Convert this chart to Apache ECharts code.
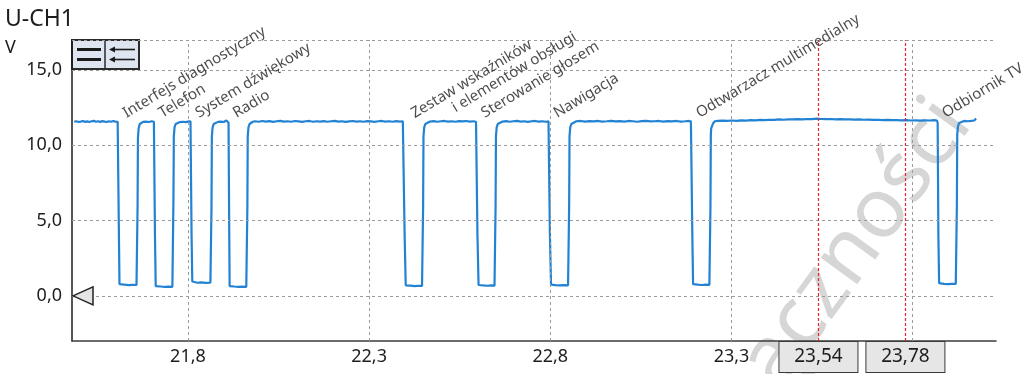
<!DOCTYPE html>
<html>
<head>
<meta charset="utf-8">
<script src="https://cdn.jsdelivr.net/npm/echarts@6/dist/echarts.min.js"></script>
<style>
html,body{margin:0;padding:0;background:#fff;}
#c{width:1033px;height:374px;}
</style>
</head>
<body>
<div id="c"></div>
<script>
// ---- data ----
const xRange = [21.48, 24.03];
const yRange = [-3, 17];
const xTickValues = [21.8, 22.3, 22.8, 23.3, 23.8];
const xTickLabelsShown = [21.8, 22.3, 22.8, 23.3];
const yTickValues = [0, 5, 10, 15];
const cursorValues = [23.54, 23.78];
const annotationText = [
  'Interfejs diagnostyczny', 'Telefon', 'System dźwiękowy', 'Radio',
  'Zestaw wskaźników\ni elementów obsługi', 'Sterowanie głosem', 'Nawigacja',
  'Odtwarzacz multimedialny', 'Odbiornik TV'
];
const annotationX = [21.608, 21.707, 21.808, 21.912, 22.396, 22.597, 22.797, 23.190, 23.869];
const annotationY = 11.6;

const tracePoints = [
  [21.486,11.57],[21.492,11.60],[21.498,11.55],[21.504,11.58],[21.510,11.62],[21.516,11.56],[21.522,11.59],
  [21.528,11.55],[21.534,11.60],[21.540,11.63],[21.546,11.57],[21.552,11.60],[21.558,11.56],[21.564,11.61],
  [21.570,11.58],[21.576,11.55],[21.582,11.60],[21.588,11.57],[21.594,11.62],[21.600,11.58],[21.606,11.56],
  [21.608,11.50],[21.610,3.0],[21.611,0.78],
  [21.614,0.72],[21.625,0.74],[21.636,0.71],[21.647,0.73],[21.658,0.72],
  [21.659,0.80],[21.661,6.0],[21.662,10.5],[21.664,11.15],[21.667,11.42],[21.671,11.52],[21.676,11.56],
  [21.684,11.58],[21.692,11.55],[21.700,11.60],[21.706,11.57],
  [21.707,11.50],[21.709,4.0],[21.711,0.65],
  [21.714,0.60],[21.725,0.62],[21.736,0.59],[21.747,0.61],[21.757,0.60],
  [21.758,0.70],[21.760,6.5],[21.761,10.6],[21.763,11.2],[21.766,11.42],[21.770,11.52],
  [21.778,11.55],[21.786,11.57],[21.794,11.54],[21.800,11.58],[21.804,11.70],[21.807,11.60],
  [21.808,11.50],[21.810,4.0],[21.812,0.95],
  [21.815,0.88],[21.826,0.87],[21.837,0.89],[21.848,0.86],[21.862,0.88],
  [21.863,1.0],[21.865,6.0],[21.866,10.6],[21.868,11.2],[21.871,11.42],[21.875,11.53],
  [21.883,11.56],[21.891,11.58],[21.899,11.55],[21.906,11.66],[21.910,11.60],
  [21.912,11.50],[21.914,4.0],[21.915,0.65],
  [21.917,0.60],[21.928,0.62],[21.939,0.60],[21.950,0.61],[21.961,0.60],
  [21.962,0.70],[21.964,6.0],[21.965,10.6],[21.967,11.2],[21.970,11.42],[21.974,11.52],[21.979,11.57],
  [21.985,11.60],[21.995,11.57],[22.005,11.62],[22.015,11.58],[22.025,11.61],[22.035,11.56],[22.045,11.60],
  [22.055,11.63],[22.065,11.58],[22.075,11.60],[22.085,11.57],[22.095,11.62],[22.105,11.59],[22.115,11.56],
  [22.125,11.60],[22.135,11.62],[22.145,11.57],[22.155,11.60],[22.165,11.58],[22.175,11.61],[22.185,11.57],
  [22.195,11.60],[22.205,11.63],[22.215,11.58],[22.225,11.60],[22.235,11.56],[22.245,11.59],[22.255,11.62],
  [22.265,11.58],[22.275,11.60],[22.285,11.57],[22.295,11.61],[22.305,11.59],[22.315,11.56],[22.325,11.60],
  [22.335,11.62],[22.345,11.58],[22.355,11.60],[22.365,11.57],[22.375,11.61],[22.385,11.58],[22.393,11.60],
  [22.396,11.50],[22.398,4.0],[22.401,0.70],
  [22.403,0.66],[22.414,0.68],[22.425,0.65],[22.436,0.67],[22.446,0.66],
  [22.447,0.75],[22.449,6.0],[22.450,10.6],[22.452,11.2],[22.455,11.42],[22.459,11.54],
  [22.468,11.58],[22.478,11.61],[22.488,11.57],[22.498,11.60],[22.508,11.62],[22.518,11.58],[22.528,11.60],
  [22.538,11.57],[22.548,11.61],[22.558,11.59],[22.568,11.62],[22.578,11.58],[22.588,11.60],[22.595,11.57],
  [22.597,11.50],[22.599,4.0],[22.602,0.72],
  [22.604,0.68],[22.615,0.69],[22.626,0.67],[22.637,0.69],[22.646,0.68],
  [22.647,0.78],[22.649,6.0],[22.650,10.6],[22.652,11.2],[22.655,11.42],[22.660,11.54],
  [22.668,11.58],[22.678,11.61],[22.688,11.57],[22.698,11.60],[22.708,11.63],[22.718,11.58],[22.728,11.60],
  [22.738,11.56],[22.748,11.60],[22.758,11.62],[22.768,11.58],[22.778,11.60],[22.788,11.57],[22.795,11.60],
  [22.797,11.50],[22.799,4.0],[22.802,0.74],
  [22.804,0.70],[22.815,0.71],[22.826,0.69],[22.837,0.71],[22.849,0.70],
  [22.850,0.80],[22.852,6.0],[22.853,10.6],[22.855,11.2],[22.858,11.42],[22.863,11.55],
  [22.872,11.60],[22.884,11.62],[22.896,11.58],[22.908,11.61],[22.920,11.59],[22.932,11.62],[22.944,11.58],
  [22.956,11.60],[22.968,11.63],[22.980,11.59],[22.992,11.61],[23.004,11.58],[23.016,11.62],[23.028,11.60],
  [23.040,11.57],[23.052,11.61],[23.064,11.63],[23.076,11.59],[23.088,11.60],[23.100,11.62],[23.112,11.58],
  [23.124,11.61],[23.136,11.59],[23.148,11.62],[23.160,11.58],[23.172,11.60],[23.182,11.62],[23.188,11.59],
  [23.190,11.50],[23.192,4.0],[23.194,0.78],
  [23.196,0.73],[23.207,0.74],[23.218,0.72],[23.229,0.74],[23.239,0.73],
  [23.240,0.80],[23.242,6.0],[23.243,10.7],[23.244,11.12],[23.246,11.2],[23.249,11.45],[23.254,11.60],
  [23.262,11.62],[23.275,11.64],[23.288,11.62],[23.301,11.65],[23.314,11.63],[23.327,11.66],[23.340,11.64],
  [23.353,11.67],[23.366,11.66],[23.379,11.69],[23.392,11.67],[23.405,11.70],[23.418,11.69],[23.431,11.72],
  [23.444,11.70],[23.457,11.73],[23.470,11.72],[23.483,11.74],[23.496,11.73],[23.509,11.75],[23.522,11.74],
  [23.535,11.77],[23.548,11.75],[23.561,11.74],[23.574,11.75],[23.587,11.73],[23.600,11.74],[23.613,11.72],
  [23.626,11.73],[23.639,11.71],[23.652,11.72],[23.665,11.70],[23.678,11.71],[23.691,11.69],[23.704,11.70],
  [23.717,11.68],[23.730,11.69],[23.743,11.67],[23.756,11.68],[23.769,11.66],[23.782,11.67],[23.795,11.65],
  [23.808,11.66],[23.821,11.64],[23.834,11.66],[23.847,11.65],[23.860,11.67],[23.867,11.65],
  [23.869,11.50],[23.871,4.0],[23.873,0.85],
  [23.875,0.79],[23.886,0.80],[23.897,0.78],[23.908,0.80],[23.919,0.79],
  [23.920,0.85],[23.922,6.0],[23.923,10.7],[23.925,11.25],[23.928,11.48],[23.933,11.60],
  [23.942,11.62],[23.952,11.60],[23.962,11.63],[23.970,11.65],[23.975,11.78]
];

// ---- chart ----
const FONT = '"Noto Sans", "DejaVu Sans", sans-serif';
const TXT = '#1f1c1d';
const near = (a, b) => Math.abs(a - b) < 1e-6;
const fmt = (v, d) => v.toFixed(d).replace('.', ',');

const chart = echarts.init(document.getElementById('c'), null, {renderer: 'canvas'});

const annotationData = annotationX.map((x, i) => {
  const text = annotationText[i];
  const item = {value: [x, annotationY], name: text};
  if (text.indexOf('\n') >= 0) {
    const lines = text.split('\n');
    item.label = {
      position: [21, 14],
      formatter: '{a|' + lines[0] + '}\n{b|' + lines[1] + '}'
    };
  }
  return item;
});

const option = {
  animation: false,
  textStyle: {fontFamily: FONT},
  title: [
    {text: 'U-CH1', left: 0, top: 3, textStyle: {fontFamily: FONT, fontSize: 23, fontWeight: 'normal', color: TXT}},
    {text: 'V', left: 0, top: 34, textStyle: {fontFamily: FONT, fontSize: 18, fontWeight: 'normal', color: TXT}}
  ],
  grid: {left: 72, right: 37, top: 40, bottom: 33, containLabel: false},
  xAxis: {
    type: 'value', min: xRange[0], max: xRange[1], interval: 0.02,
    axisLine: {show: true, onZero: false, lineStyle: {color: '#3c3c3c', width: 1.5}},
    axisTick: {show: false},
    splitLine: {show: false},
    axisLabel: {
      margin: 1,
      color: TXT,
      formatter: function (v) {
        if (cursorValues.some(c => near(c, v))) return '{box|' + fmt(v, 2) + '}';
        if (xTickLabelsShown.some(c => near(c, v))) return '{n|' + fmt(v, 1) + '}';
        return '';
      },
      rich: {
        n: {fontFamily: FONT, fontSize: 18, color: TXT, padding: [5, 0, 0, 0], lineHeight: 24},
        box: {fontFamily: FONT, fontSize: 19, color: TXT, backgroundColor: '#e6e6e6',
              borderColor: '#3a3a3a', borderWidth: 1, width: 62, height: 30, lineHeight: 30,
              padding: [0, 8], align: 'center'}
      }
    }
  },
  yAxis: {
    type: 'value', min: yRange[0], max: yRange[1], interval: 1,
    axisLine: {show: true, onZero: false, lineStyle: {color: '#1e1e1e', width: 1.5}},
    axisTick: {show: false},
    splitLine: {show: false},
    axisLabel: {
      margin: 10, fontSize: 18, color: TXT, fontFamily: FONT,
      formatter: function (v) {
        return yTickValues.some(c => near(c, v)) ? fmt(v, 1) : '';
      }
    }
  },
  series: [
    {
      type: 'line', data: [], silent: true, z: 1,
      markLine: {
        silent: true, symbol: ['none', 'none'], animation: false,
        label: {show: false},
        lineStyle: {type: [3, 3], color: '#9b9b9b', width: 1},
        data: xTickValues.map(v => ({xAxis: v}))
          .concat(yTickValues.map(v => ({yAxis: v})))
          .concat([{yAxis: yRange[1]}])
      }
    },
    {
      type: 'line', data: [], silent: true, z: 3,
      markLine: {
        silent: true, symbol: ['none', 'none'], animation: false,
        label: {show: false},
        lineStyle: {type: [3, 2], color: '#e8262a', width: 1.2},
        data: cursorValues.map(v => ({xAxis: v}))
      }
    },
    {
      type: 'line', data: tracePoints, showSymbol: false, z: 4,
      lineStyle: {color: '#2282d4', width: 2.2},
      itemStyle: {color: '#2282d4'}
    },
    {
      type: 'scatter', data: annotationData, symbolSize: 0, z: 5, silent: true,
      label: {
        show: true, position: [10, 0], rotate: 31, align: 'left', verticalAlign: 'bottom',
        fontFamily: FONT, fontSize: 15, color: TXT, lineHeight: 16,
        formatter: p => p.name,
        rich: {
          a: {fontFamily: FONT, fontSize: 15, color: TXT, lineHeight: 16},
          b: {fontFamily: FONT, fontSize: 15, color: TXT, lineHeight: 16, padding: [0, 0, 0, 38]}
        }
      }
    }
  ]
};
chart.setOption(option);

// decorations placed through the chart's own coordinate system
const topLeft = chart.convertToPixel({gridIndex: 0}, [xRange[0], yRange[1]]);
const zeroPt = chart.convertToPixel({gridIndex: 0}, [xRange[0], 0]);
const bx = topLeft[0], by = topLeft[1];
chart.setOption({
  graphic: [
    {
      type: 'text', z: -10, silent: true,
      x: 954, y: 110, rotation: 54 * Math.PI / 180,
      style: {text: 'Łączności', font: '84px ' + FONT, fill: '#d6d6d6', align: 'right', verticalAlign: 'middle'}
    },
    {
      type: 'group', x: bx, y: by, z: 100, silent: true,
      children: [
        {type: 'rect', shape: {x: 0, y: 0, width: 67, height: 29}, style: {fill: '#dfe4f1', stroke: '#2b2b2b', lineWidth: 2}},
        {type: 'line', shape: {x1: 33, y1: 0, x2: 33, y2: 29}, style: {stroke: '#2b2b2b', lineWidth: 1.5}},
        {type: 'line', shape: {x1: 5, y1: 9.5, x2: 29, y2: 9.5}, style: {stroke: '#1a1a1a', lineWidth: 3}},
        {type: 'line', shape: {x1: 5, y1: 19.5, x2: 29, y2: 19.5}, style: {stroke: '#1a1a1a', lineWidth: 3}},
        {type: 'line', shape: {x1: 40, y1: 9.5, x2: 63, y2: 9.5}, style: {stroke: '#1a1a1a', lineWidth: 1.6}},
        {type: 'line', shape: {x1: 40, y1: 19.5, x2: 63, y2: 19.5}, style: {stroke: '#1a1a1a', lineWidth: 1.6}},
        {type: 'polygon', shape: {points: [[37, 9.5], [43, 6.5], [43, 12.5]]}, style: {fill: '#1a1a1a'}},
        {type: 'polygon', shape: {points: [[37, 19.5], [43, 16.5], [43, 22.5]]}, style: {fill: '#1a1a1a'}}
      ]
    },
    {
      type: 'polygon', z: 100, silent: true,
      shape: {points: [[zeroPt[0] + 1, zeroPt[1]], [zeroPt[0] + 21, zeroPt[1] - 9], [zeroPt[0] + 21, zeroPt[1] + 9]]},
      style: {fill: '#e4e4e4', stroke: '#222', lineWidth: 1.5}
    }
  ]
});
</script>
</body>
</html>
